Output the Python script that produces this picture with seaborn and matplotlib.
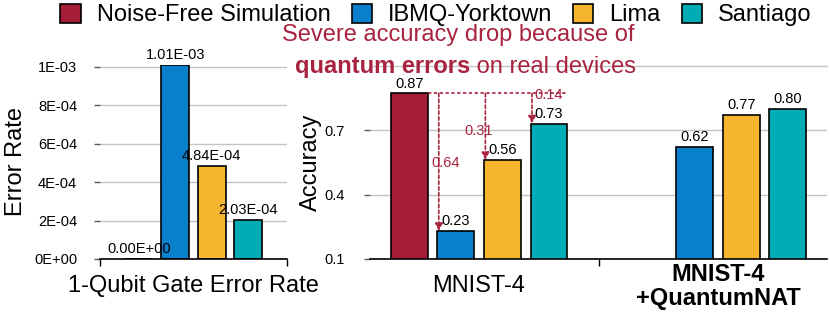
import numpy as np
import pandas as pd
import matplotlib
matplotlib.use("Agg")
from matplotlib import pyplot as plt
from matplotlib.patches import Patch
import seaborn as sns

# data
devices = ["Noise-Free Simulation", "IBMQ-Yorktown", "Lima", "Santiago"]
device_colors = ["#A51D36", "#0A7FCB", "#F6B52E", "#00ACB6"]

error_group = ["1-Qubit Gate Error Rate"]
error_rates = [0.0, 1.01e-3, 4.84e-4, 2.03e-4]
error_ticks = [0, 2e-4, 4e-4, 6e-4, 8e-4, 1e-3]

tasks = ["MNIST-4", "MNIST-4\n+QuantumNAT"]
acc_mnist4 = [0.87, 0.23, 0.56, 0.73]
acc_quantumnat = [np.nan, 0.62, 0.77, 0.80]
acc_ticks = [0.1, 0.4, 0.7]

red = "#A8233F"
grid_color = "#C4C4C4"
big = 17
small = 10.5

sns.set_style("white")
plt.rcParams["font.family"] = ["Liberation Sans", "DejaVu Sans"]
plt.rcParams["text.color"] = "black"
plt.rcParams["axes.labelcolor"] = "black"
plt.rcParams["xtick.color"] = "black"
plt.rcParams["ytick.color"] = "black"

fig = plt.figure(figsize=(8.3, 3.16), dpi=100)
ax_err = fig.add_axes([100 / 830, 57 / 316, 187 / 830, 194.2 / 316])
ax_acc = fig.add_axes([370 / 830, 57 / 316, 457 / 830, 193.5 / 316])

# left panel: gate error rate
err_df = pd.DataFrame({"group": error_group * len(devices), "device": devices, "rate": error_rates})
sns.barplot(data=err_df, x="group", y="rate", hue="device", hue_order=devices,
            palette=device_colors, saturation=1, width=0.78, gap=0.22, edgecolor="black",
            linewidth=1.2, legend=False, ax=ax_err)
for c in ax_err.containers:
    ax_err.bar_label(c, fmt=lambda v: f"{v:.2E}", fontsize=small, padding=2)
ax_err.set_ylim(0, 1.01e-3)
ax_err.set_yticks(error_ticks)
ax_err.set_yticklabels([f"{v:.0E}" for v in error_ticks])
ax_err.set_ylabel("Error Rate", fontsize=big)
ax_err.yaxis.set_label_coords(-0.39, 0.5)

# right panel: accuracy
acc_df = pd.DataFrame({
    "task": np.repeat(tasks, len(devices)),
    "device": devices * len(tasks),
    "acc": acc_mnist4 + acc_quantumnat,
})
sns.barplot(data=acc_df, x="task", y="acc", hue="device", hue_order=devices,
            palette=device_colors, saturation=1, width=0.78, gap=0.21, edgecolor="black",
            linewidth=1.2, legend=False, ax=ax_acc)
for c in ax_acc.containers:
    ax_acc.bar_label(c, fmt="%.2f", fontsize=small, padding=2)
ax_acc.set_ylim(0.1, 1.0)
ax_acc.set_yticks(acc_ticks)
ax_acc.set_yticklabels([f"{v:.1f}" for v in acc_ticks])
ax_acc.axhline(1.0, color=grid_color, lw=1, zorder=0.5, clip_on=False)
ax_acc.set_ylabel("Accuracy", fontsize=big)
ax_acc.yaxis.set_label_coords(-0.105, 0.5)

for ax, pad in [(ax_err, 12.5), (ax_acc, 14)]:
    ax.set_xlabel("")
    for s in ["top", "right", "left"]:
        ax.spines[s].set_visible(False)
    ax.spines["bottom"].set_color("black")
    ax.spines["bottom"].set_linewidth(1.2)
    ax.set_axisbelow(True)
    ax.yaxis.grid(True, color=grid_color, lw=1)
    ax.tick_params(axis="y", left=True, length=4, width=1, color="#595959",
                   labelsize=small, pad=pad)
    ax.tick_params(axis="x", bottom=True, length=0, labelsize=big, pad=19.5)
    lo, hi = ax.get_xlim()
    ax.set_xticks(np.arange(lo, hi + 0.01, 1.0), minor=True)
    ax.tick_params(axis="x", which="minor", bottom=True, length=5, width=1, color="black")
    for lab in ax.get_xticklabels():
        lab.set_va("center")

tick_labels = ax_acc.get_xticklabels()
tick_labels[1].set_fontweight("bold")
tick_labels[1].set_linespacing(1.05)

# accuracy drop arrows from the noise-free bar
top = acc_mnist4[0]
ref_bar = ax_acc.containers[0][0]
last_bar = ax_acc.containers[-1][0]
ax_acc.plot([ref_bar.get_x() + ref_bar.get_width(), last_bar.get_x() + last_bar.get_width()],
            [top, top], color=red, lw=1.2, ls=(0, (2, 1.5)))
label_dx = [0.03, -0.03, 0.07]
label_y = [0.545, 0.695, 0.865]
for i in range(1, len(devices)):
    bar = ax_acc.containers[i][0]
    x = bar.get_x() + 0.006
    ax_acc.annotate("", xy=(x, acc_mnist4[i]), xytext=(x, top),
                    arrowprops=dict(arrowstyle="-|>", color=red, lw=1.2, ls=(0, (2, 1.5)),
                                    mutation_scale=11, shrinkA=0, shrinkB=0))
    ax_acc.text(x + label_dx[i - 1], label_y[i - 1], f"{top - acc_mnist4[i]:.2f}",
                color=red, fontsize=small, ha="center", va="center")

# callout text
fig.text(458.5 / 830, 1 - 35 / 316, "Severe accuracy drop because of",
         color=red, fontsize=big, ha="center", va="center")
bold_part = fig.text(295 / 830, 1 - 67 / 316, "quantum errors", color=red,
                     fontsize=big, fontweight="bold", ha="left", va="center")
fig.canvas.draw()
bb = bold_part.get_window_extent()
fig.text(bb.x1 / fig.bbox.width, 1 - 67 / 316, " on real devices", color=red,
         fontsize=big, ha="left", va="center")

# legend
handles = [Patch(facecolor=c, edgecolor="black", lw=1.2, label=d)
           for d, c in zip(devices, device_colors)]
fig.legend(handles=handles, loc="center", bbox_to_anchor=(436 / 830, 1 - 15 / 316),
           ncol=4, frameon=False, fontsize=big, handlelength=0.85, handleheight=0.85,
           handletextpad=0.68, columnspacing=0.9, borderaxespad=0, borderpad=0)

plt.savefig("out.png", dpi=100)
